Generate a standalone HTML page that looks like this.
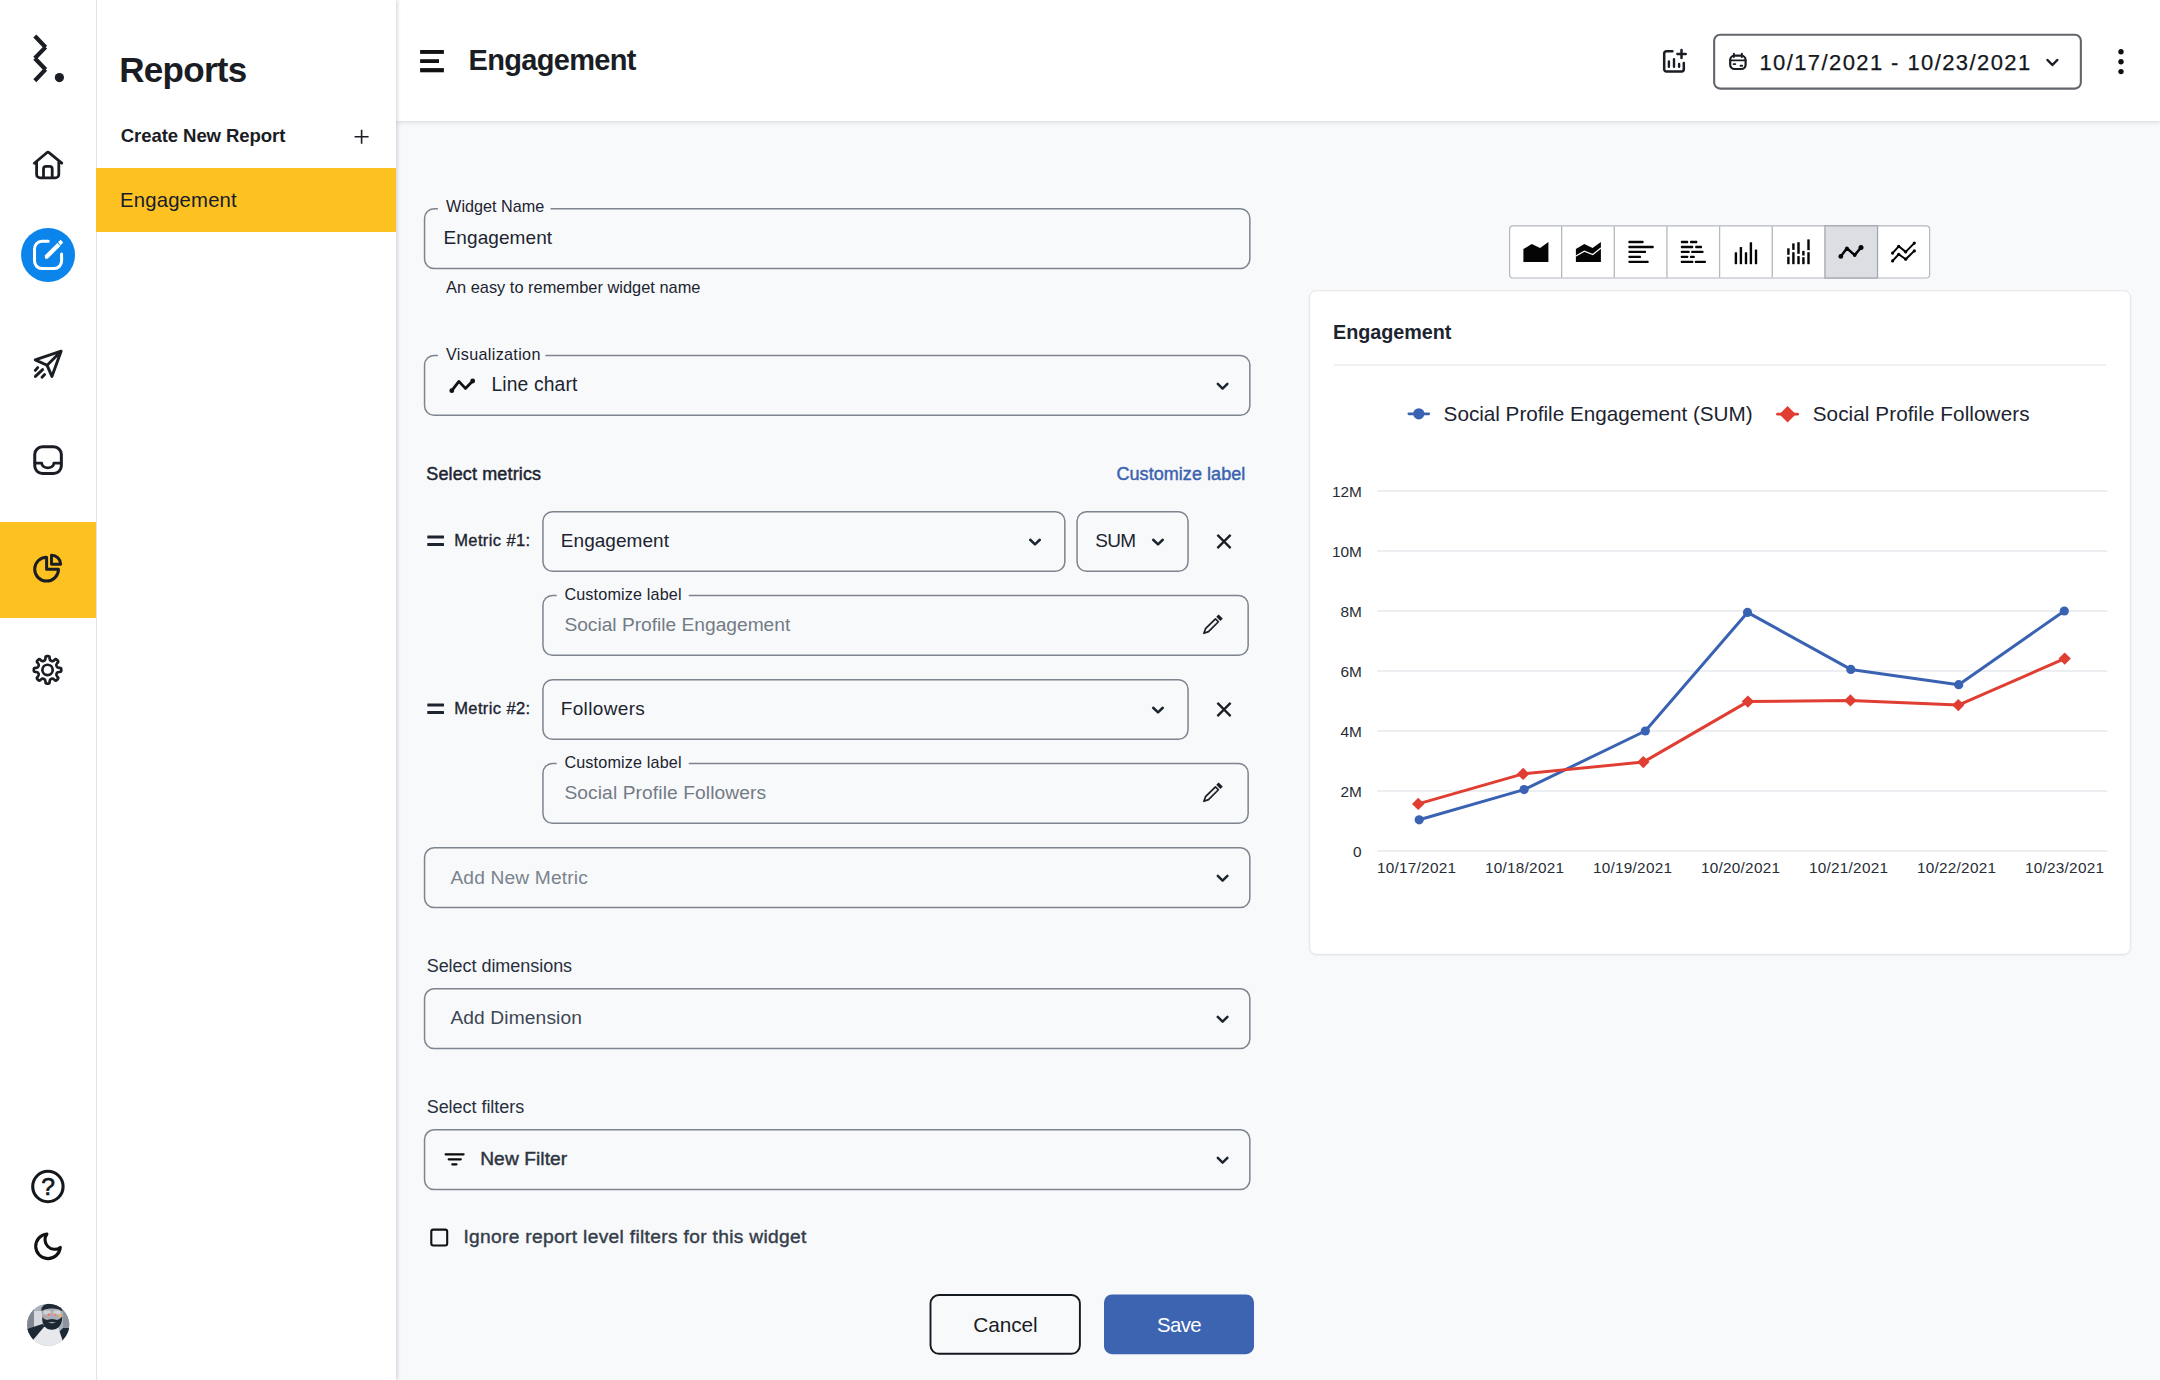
<!DOCTYPE html>
<html lang="en"><head><meta charset="utf-8"><title>Reports - Engagement</title>
<style>
html,body{margin:0;padding:0}
body{width:2160px;height:1380px;position:relative;overflow:hidden;background:#f8f9fb;font-family:"Liberation Sans",sans-serif;color:#1c2430}
#main{position:absolute;left:396px;top:121px;width:1764px;height:1259px;background:#f8f9fb}
#header{position:absolute;left:396px;top:0;width:1764px;height:121px;background:#fff;box-shadow:0 1px 5px rgba(30,40,60,.17)}
#sidebar{position:absolute;left:97px;top:0;width:299px;height:1380px;background:#fff;box-shadow:1px 0 4px rgba(30,40,60,.22)}
#sel{position:absolute;left:96px;top:168px;width:300px;height:64px;background:#fdc122}
#rail{position:absolute;left:0;top:0;width:96px;height:1380px;background:#fff;border-right:1px solid #e3e4e8}
#railsel{position:absolute;left:0;top:522px;width:96px;height:96px;background:#fdc122}
#ov{position:absolute;left:0;top:0}
.t{position:absolute;line-height:1;white-space:pre;margin:0}

</style></head>
<body>
<div id="main"></div>
<div id="header"></div>
<div id="sidebar"></div>
<div id="rail"><div id="railsel"></div></div>
<div id="sel"></div>
<svg id="ov" width="2160" height="1380" viewBox="0 0 2160 1380">
<path d="M34.8,36 L45.6,47.2 M45.6,47.1 L34.8,58.3 M34.8,58.3 L45.6,69.5 M45.6,69.4 L34.8,80.7" fill="none" stroke="#1a1d23" stroke-width="4.2"/>
<circle cx="59.4" cy="77.6" r="4.6" fill="#1a1d23"/>
<path d="M34.3,163.2 L46.8,152.7 Q47.9,151.8 49,152.7 L61.8,163.2 M36.6,161.6 V174.4 a3.5,3.5 0 0 0 3.5,3.5 H55.3 a3.5,3.5 0 0 0 3.5,-3.5 V161.6 M43.5,177.9 V169 a2.6,2.6 0 0 1 2.6,-2.6 h3.5 a2.6,2.6 0 0 1 2.6,2.6 V177.9" fill="none" stroke="#1a1d23" stroke-width="2.8" stroke-linecap="round" stroke-linejoin="round"/>
<circle cx="48.05" cy="254.95" r="27" fill="#0b85eb"/>
<path d="M48.2,241.3 H41.9 a7.4,7.4 0 0 0 -7.4,7.4 V261.1 a7.4,7.4 0 0 0 7.4,7.4 H54.2 a7.4,7.4 0 0 0 7.4,-7.4 V254" fill="none" stroke="#fff" stroke-width="3" stroke-linecap="round"/>
<path d="M44.7,255.6 L57.4,242.9 L60.4,246 L47.6,258.8 L45.2,258.8 Z" fill="#fff"/>
<path d="M58.1,242 L60.7,239.7 L63.2,242.5 L60.5,245.5 Z" fill="#fff"/>
<path d="M61.1,351.2 L35.2,359.9 L47.1,365.3 L51.9,376.4 Z M47.1,365.3 L61.1,351.2" fill="none" stroke="#1a1d23" stroke-width="2.9" stroke-linecap="round" stroke-linejoin="round"/>
<path d="M35.3,370.4 L37.7,367.6 M35.4,376.4 L42.6,369.6 M42,377.2 L44.6,374.5" fill="none" stroke="#1a1d23" stroke-width="2.9" stroke-linecap="round" stroke-linejoin="round"/>
<rect x="34.75" y="446.85" width="26.6" height="26.6" rx="7.6" fill="none" stroke="#1a1d23" stroke-width="3" stroke-linecap="round" stroke-linejoin="round"/>
<path d="M35,463.1 H41.7 c0.4,6.4 11.8,6.4 12.2,0 H61" fill="none" stroke="#1a1d23" stroke-width="2.8" stroke-linecap="round" stroke-linejoin="round"/>
<path d="M46.6,557.3 A11.9,11.9 0 1 0 58.5,569.2 H46.6 Z" fill="none" stroke="#1a1d23" stroke-width="3" stroke-linecap="round" stroke-linejoin="round"/>
<path d="M51.5,555.2 V564.3 H60.7 A9.2,9.2 0 0 0 51.5,555.2 Z" fill="none" stroke="#1a1d23" stroke-width="2.9" stroke-linecap="round" stroke-linejoin="round"/>
<path d="M45.46,657.75 Q45.48,656.15 47.08,656.15 L48.02,656.15 Q49.62,656.15 49.64,657.75 L49.65,658.63 Q49.67,660.23 51.15,660.84 L51.41,660.95 Q52.89,661.56 54.03,660.45 L54.66,659.84 Q55.81,658.72 56.94,659.85 L57.60,660.51 Q58.73,661.64 57.61,662.79 L57.00,663.42 Q55.89,664.56 56.50,666.04 L56.61,666.30 Q57.22,667.78 58.82,667.80 L59.70,667.81 Q61.30,667.83 61.30,669.43 L61.30,670.37 Q61.30,671.97 59.70,671.99 L58.82,672.00 Q57.22,672.02 56.61,673.50 L56.50,673.76 Q55.89,675.24 57.00,676.38 L57.61,677.01 Q58.73,678.16 57.60,679.29 L56.94,679.95 Q55.81,681.08 54.66,679.96 L54.03,679.35 Q52.89,678.24 51.41,678.85 L51.15,678.96 Q49.67,679.57 49.65,681.17 L49.64,682.05 Q49.62,683.65 48.02,683.65 L47.08,683.65 Q45.48,683.65 45.46,682.05 L45.45,681.17 Q45.43,679.57 43.95,678.96 L43.69,678.85 Q42.21,678.24 41.07,679.35 L40.44,679.96 Q39.29,681.08 38.16,679.95 L37.50,679.29 Q36.37,678.16 37.49,677.01 L38.10,676.38 Q39.21,675.24 38.60,673.76 L38.49,673.50 Q37.88,672.02 36.28,672.00 L35.40,671.99 Q33.80,671.97 33.80,670.37 L33.80,669.43 Q33.80,667.83 35.40,667.81 L36.28,667.80 Q37.88,667.78 38.49,666.30 L38.60,666.04 Q39.21,664.56 38.10,663.42 L37.49,662.79 Q36.37,661.64 37.50,660.51 L38.16,659.85 Q39.29,658.72 40.44,659.84 L41.07,660.45 Q42.21,661.56 43.69,660.95 L43.95,660.84 Q45.43,660.23 45.45,658.63 Z" fill="none" stroke="#1a1d23" stroke-width="2.7" stroke-linecap="round" stroke-linejoin="round"/>
<circle cx="47.55" cy="669.9" r="5.15" fill="none" stroke="#1a1d23" stroke-width="2.7" stroke-linecap="round" stroke-linejoin="round"/>
<circle cx="47.9" cy="1186.5" r="15.2" fill="none" stroke="#14171c" stroke-width="3.1"/>
<path d="M21,12.79 A9,9 0 1 1 11.21,3 A7,7 0 0 0 21,12.79 Z" transform="translate(31.55,1229.9) scale(1.37)" fill="none" stroke="#111" stroke-width="2.25" stroke-linejoin="round"/>
<defs><clipPath id="av"><circle cx="48.2" cy="1324.8" r="21.1"/></clipPath></defs>
<g clip-path="url(#av)"><rect x="27" y="1303" width="43" height="44" fill="#aab0b8"/><rect x="27" y="1303" width="7" height="30" fill="#7f8791"/><rect x="34" y="1311" width="8" height="16" fill="#d6dade"/><rect x="63" y="1306" width="7" height="26" fill="#8d949d"/><path d="M27,1329 L42.5,1324 L47,1329 L33,1340 L27,1344 Z" fill="#1d2835"/><path d="M70,1328 L63,1328 L58,1333 L62,1341 L70,1344 Z" fill="#1d2835"/><path d="M33,1340 L44,1327 L58,1327 L62.5,1340 L62,1347 L33,1347 Z" fill="#e6e8ec"/><path d="M41.5,1309 Q41,1303.5 52,1303.6 Q62.8,1304 62.6,1312 L62,1321 Q60,1329 52,1329.2 Q44,1329 42.4,1321 Z" fill="#a9afb7"/><path d="M41.3,1311 Q41,1303.4 52,1303.6 Q63,1304 62.6,1311.5 Q58,1308 52,1308.6 Q46,1308 41.3,1311 Z" fill="#1f2a36"/><path d="M42.2,1317 Q45,1321 49,1319.6 Q52,1318.4 55,1319.6 Q59,1321 62.2,1316.5 Q62.4,1326 56,1329 Q52,1330.6 47.6,1329 Q42,1326 42.2,1317 Z" fill="#1c2632"/><path d="M48,1322.6 Q52,1320.8 56,1322.6 Q52,1324.2 48,1322.6 Z" fill="#8f969f"/><rect x="43.5" y="1310.6" width="7.4" height="4" rx="1.6" fill="#cfd4d9"/><rect x="53.4" y="1310.6" width="7.4" height="4" rx="1.6" fill="#cfd4d9"/><circle cx="49" cy="1314.6" r="1.5" fill="#ef8272"/><circle cx="55.2" cy="1314.8" r="1.3" fill="#ef8272"/><circle cx="60" cy="1315.6" r="1.6" fill="#f3b35a"/><circle cx="43.4" cy="1317" r="1.1" fill="#ef8272"/></g>
<path d="M354.6,136.8 H368.6 M361.6,129.8 V143.8" stroke="#1a1d23" stroke-width="1.6" fill="none"/>
<rect x="420.1" y="50" width="23.8" height="3.9" fill="#111"/><rect x="420.1" y="59.2" width="18.9" height="3.8" fill="#111"/><rect x="420.1" y="68.1" width="23.8" height="4.2" fill="#111"/>
<path d="M1672.4,51.3 H1666.4 a2.2,2.2 0 0 0 -2.2,2.2 V69.2 a2.2,2.2 0 0 0 2.2,2.2 H1681.6 a2.2,2.2 0 0 0 2.2,-2.2 V63" fill="none" stroke="#1a1d23" stroke-width="2.5" stroke-linecap="round"/>
<path d="M1668.9,61.4 V66.8 M1674,59.1 V66.8 M1679.1,64 V66.8" stroke="#1a1d23" stroke-width="2.4" fill="none" stroke-linecap="round"/>
<path d="M1677.4,53.9 H1685.7 M1681.5,49.9 V57.9" stroke="#1a1d23" stroke-width="2.5" fill="none" stroke-linecap="round"/>
<rect x="1714.15" y="34.7" width="366.7" height="53.9" rx="6" fill="#fff" stroke="#62666c" stroke-width="2.1"/>
<rect x="1730.2" y="55.7" width="15.4" height="13.3" rx="4.2" fill="none" stroke="#1a1d23" stroke-width="2.2"/>
<path d="M1733.9,53.6 V57 M1741.9,53.6 V57 M1730.4,60.4 H1745.4 M1733.6,64.1 H1735.3 M1740.5,65.7 H1742.2" stroke="#1a1d23" stroke-width="1.9" fill="none" stroke-linecap="round"/>
<path d="M2047.5,60.0 L2052.4,65.0 L2057.3,60.0" fill="none" stroke="#1a1d23" stroke-width="2.5" stroke-linecap="round" stroke-linejoin="round"/>
<circle cx="2121" cy="51.8" r="2.7" fill="#111"/>
<circle cx="2121" cy="61.8" r="2.7" fill="#111"/>
<circle cx="2121" cy="71.6" r="2.7" fill="#111"/>
<rect x="424.55" y="208.65" width="825.3" height="59.79999999999998" rx="9.5" fill="none" stroke="#7c848e" stroke-width="1.5"/>
<rect x="437.9" y="206.9" width="112.60000000000002" height="3.5" fill="#f8f9fb"/>
<rect x="424.55" y="355.45" width="825.3" height="59.80000000000001" rx="9.5" fill="none" stroke="#7c848e" stroke-width="1.5"/>
<rect x="437.9" y="353.7" width="107.60000000000002" height="3.5" fill="#f8f9fb"/>
<path d="M451.8,390.6 L458.9,381.4 L465.4,388.4 L472.7,381" fill="none" stroke="#111" stroke-width="2.8" stroke-linejoin="round" stroke-linecap="round"/>
<circle cx="451.8" cy="390.7" r="2.4" fill="#111"/><circle cx="472.7" cy="381" r="2.4" fill="#111"/>
<path d="M1217.8,383.84999999999997 L1222.6,388.55 L1227.3999999999999,383.84999999999997" fill="none" stroke="#1c2430" stroke-width="2.5" stroke-linecap="round" stroke-linejoin="round"/>
<rect x="427.3" y="535.6" width="16.7" height="3" rx="0.5" fill="#1c2430"/>
<rect x="427.3" y="543.1" width="16.7" height="3" rx="0.5" fill="#1c2430"/>
<rect x="542.95" y="511.65" width="521.8999999999999" height="59.60000000000002" rx="9.5" fill="none" stroke="#7c848e" stroke-width="1.5"/>
<rect x="1077.05" y="511.65" width="111.0" height="59.60000000000002" rx="9.5" fill="none" stroke="#7c848e" stroke-width="1.5"/>
<path d="M1030.2,539.75 L1035,544.45 L1039.8,539.75" fill="none" stroke="#1c2430" stroke-width="2.5" stroke-linecap="round" stroke-linejoin="round"/>
<path d="M1153.2,539.75 L1158,544.45 L1162.8,539.75" fill="none" stroke="#1c2430" stroke-width="2.5" stroke-linecap="round" stroke-linejoin="round"/>
<path d="M1217.4,534.9 L1230.6,548.1 M1230.6,534.9 L1217.4,548.1" stroke="#1a1d23" stroke-width="2.3" fill="none"/>
<rect x="542.95" y="595.55" width="705.2" height="59.80000000000007" rx="9.5" fill="none" stroke="#7c848e" stroke-width="1.5"/>
<rect x="556.7" y="593.8" width="132.0" height="3.5" fill="#f8f9fb"/>
<g transform="translate(1212.25,624.95) rotate(45)"><path d="M-2.1,-6.6 H2.1 V7.4 L0,11.8 L-2.1,7.4 Z" fill="none" stroke="#1a1d23" stroke-width="1.7" stroke-linejoin="round"/><rect x="-2.95" y="-11.9" width="5.9" height="3.3" fill="#1a1d23"/></g>
<rect x="427.3" y="703.6" width="16.7" height="3" rx="0.5" fill="#1c2430"/>
<rect x="427.3" y="711.1" width="16.7" height="3" rx="0.5" fill="#1c2430"/>
<rect x="542.95" y="679.65" width="645.0999999999999" height="59.60000000000002" rx="9.5" fill="none" stroke="#7c848e" stroke-width="1.5"/>
<path d="M1153.2,707.75 L1158,712.45 L1162.8,707.75" fill="none" stroke="#1c2430" stroke-width="2.5" stroke-linecap="round" stroke-linejoin="round"/>
<path d="M1217.4,702.9 L1230.6,716.1 M1230.6,702.9 L1217.4,716.1" stroke="#1a1d23" stroke-width="2.3" fill="none"/>
<rect x="542.95" y="763.55" width="705.2" height="59.80000000000007" rx="9.5" fill="none" stroke="#7c848e" stroke-width="1.5"/>
<rect x="556.7" y="761.8" width="132.0" height="3.5" fill="#f8f9fb"/>
<g transform="translate(1212.25,792.95) rotate(45)"><path d="M-2.1,-6.6 H2.1 V7.4 L0,11.8 L-2.1,7.4 Z" fill="none" stroke="#1a1d23" stroke-width="1.7" stroke-linejoin="round"/><rect x="-2.95" y="-11.9" width="5.9" height="3.3" fill="#1a1d23"/></g>
<rect x="424.55" y="847.85" width="825.3" height="59.60000000000002" rx="9.5" fill="none" stroke="#7c848e" stroke-width="1.5"/>
<path d="M1217.8,875.9499999999999 L1222.6,880.65 L1227.3999999999999,875.9499999999999" fill="none" stroke="#1c2430" stroke-width="2.5" stroke-linecap="round" stroke-linejoin="round"/>
<rect x="424.55" y="988.85" width="825.3" height="59.60000000000002" rx="9.5" fill="none" stroke="#7c848e" stroke-width="1.5"/>
<path d="M1217.8,1016.9499999999999 L1222.6,1021.65 L1227.3999999999999,1016.9499999999999" fill="none" stroke="#1c2430" stroke-width="2.5" stroke-linecap="round" stroke-linejoin="round"/>
<rect x="424.55" y="1129.85" width="825.3" height="59.600000000000136" rx="9.5" fill="none" stroke="#7c848e" stroke-width="1.5"/>
<path d="M1217.8,1157.95 L1222.6,1162.6499999999999 L1227.3999999999999,1157.95" fill="none" stroke="#1c2430" stroke-width="2.5" stroke-linecap="round" stroke-linejoin="round"/>
<path d="M445.6,1154.3 H463.6 M448.7,1159.3 H460.8 M452.3,1164.3 H456.5" stroke="#0a0a0a" stroke-width="2.2" fill="none" stroke-linecap="round"/>
<rect x="431.3" y="1229.6" width="15.9" height="15.9" rx="2" fill="none" stroke="#111" stroke-width="2.1"/>
<rect x="930.5" y="1295" width="149.4" height="58.8" rx="8.5" fill="none" stroke="#14181f" stroke-width="1.9"/>
<rect x="1104" y="1294.5" width="150" height="59.7" rx="8" fill="#3d64b1"/>
<rect x="1509.6" y="225.79999999999998" width="420.00000000000006" height="52.20000000000003" rx="3.5" fill="#fff" stroke="#b4b8bf" stroke-width="1.2"/>
<rect x="1824.90" y="225.79999999999998" width="52.65" height="52.20000000000003" fill="#dcdee3" stroke="#a4a8af" stroke-width="1.3"/>
<path d="M1561.65,226.2 V277.6" stroke="#b4b8bf" stroke-width="1.3"/>
<path d="M1614.30,226.2 V277.6" stroke="#b4b8bf" stroke-width="1.3"/>
<path d="M1666.95,226.2 V277.6" stroke="#b4b8bf" stroke-width="1.3"/>
<path d="M1719.60,226.2 V277.6" stroke="#b4b8bf" stroke-width="1.3"/>
<path d="M1772.25,226.2 V277.6" stroke="#b4b8bf" stroke-width="1.3"/>
<path d="M1523.4,261.9 V249 L1531.8,243.9 L1540.1,248 L1548.4,242.1 V261.9 Z" fill="#050505"/>
<path d="M1575.9,261.9 V249 L1584.3,243.9 L1592.6,248 L1600.9,242.1 V261.9 Z" fill="#050505"/>
<path d="M1575.9,256.1 L1584.3,251.2 L1592.8,254.5 L1600.9,248" fill="none" stroke="#fff" stroke-width="1.2"/>
<rect x="1628.4" y="240.8" width="15.2" height="2.4" rx="0.8" fill="#050505"/>
<rect x="1628.4" y="245.8" width="25.3" height="2.4" rx="0.8" fill="#050505"/>
<rect x="1628.4" y="250.70000000000002" width="17.7" height="2.4" rx="0.8" fill="#050505"/>
<rect x="1628.4" y="255.7" width="12.6" height="2.4" rx="0.8" fill="#050505"/>
<rect x="1628.4" y="260.7" width="20.3" height="2.4" rx="0.8" fill="#050505"/>
<rect x="1680.9" y="240.8" width="7.3" height="2.4" rx="0.6" fill="#050505"/>
<rect x="1690" y="240.8" width="7.3" height="2.4" rx="0.6" fill="#050505"/>
<rect x="1680.9" y="245.8" width="12.3" height="2.4" rx="0.6" fill="#050505"/>
<rect x="1695.2" y="245.8" width="6.8" height="2.4" rx="0.6" fill="#050505"/>
<rect x="1680.9" y="250.70000000000002" width="8.7" height="2.4" rx="0.6" fill="#050505"/>
<rect x="1691.3" y="250.70000000000002" width="12.1" height="2.4" rx="0.6" fill="#050505"/>
<rect x="1680.9" y="255.7" width="7.3" height="2.4" rx="0.6" fill="#050505"/>
<rect x="1690" y="255.7" width="4.7" height="2.4" rx="0.6" fill="#050505"/>
<rect x="1680.9" y="260.7" width="12.3" height="2.4" rx="0.6" fill="#050505"/>
<rect x="1694.9" y="260.7" width="11.0" height="2.4" rx="0.6" fill="#050505"/>
<rect x="1734.7" y="252.2" width="2.4" height="12.0" rx="0.6" fill="#050505"/>
<rect x="1739.7" y="247" width="2.4" height="17.2" rx="0.6" fill="#050505"/>
<rect x="1744.8" y="252.2" width="2.4" height="12.0" rx="0.6" fill="#050505"/>
<rect x="1749.7" y="242.2" width="2.4" height="22.0" rx="0.6" fill="#050505"/>
<rect x="1754.8" y="249.4" width="2.4" height="14.8" rx="0.6" fill="#050505"/>
<rect x="1787.2" y="248.3" width="2.4" height="6.5" fill="#050505"/>
<rect x="1787.2" y="256.7" width="2.4" height="7.5" fill="#050505"/>
<rect x="1792.2" y="243.4" width="2.4" height="6.5" fill="#050505"/>
<rect x="1792.2" y="252.2" width="2.4" height="12.0" fill="#050505"/>
<rect x="1797.3" y="242.2" width="2.4" height="11.6" fill="#050505"/>
<rect x="1797.3" y="256.1" width="2.4" height="8.1" fill="#050505"/>
<rect x="1802.2" y="250.9" width="2.4" height="4.6" fill="#050505"/>
<rect x="1802.2" y="257.2" width="2.4" height="7.0" fill="#050505"/>
<rect x="1807.3" y="239.4" width="2.4" height="10.8" fill="#050505"/>
<rect x="1807.3" y="252.2" width="2.4" height="12.0" fill="#050505"/>
<path d="M1840.8,256.4 L1846.9,248.3 L1854.7,255.1 L1861,247.5" fill="none" stroke="#050505" stroke-width="2.5" stroke-linejoin="round" stroke-linecap="round"/>
<circle cx="1840.8" cy="256.4" r="2.4" fill="#050505"/>
<circle cx="1846.9" cy="248.3" r="1.9" fill="#050505"/>
<circle cx="1854.7" cy="255.1" r="1.9" fill="#050505"/>
<circle cx="1861" cy="247.5" r="2.5" fill="#050505"/>
<path d="M1892.6,253.1 L1898.7,246.3 L1905.7,251.9 L1914.3,243.1" fill="none" stroke="#050505" stroke-width="2" stroke-linejoin="round" stroke-linecap="round"/>
<circle cx="1892.6" cy="253.1" r="1.6" fill="#050505"/>
<circle cx="1898.7" cy="246.3" r="1.6" fill="#050505"/>
<circle cx="1905.7" cy="251.9" r="1.6" fill="#050505"/>
<circle cx="1914.3" cy="243.1" r="1.6" fill="#050505"/>
<path d="M1892.6,260.9 L1898.7,254.3 L1905.7,259.2 L1914.3,250.9" fill="none" stroke="#050505" stroke-width="2" stroke-linejoin="round" stroke-linecap="round"/>
<circle cx="1892.6" cy="260.9" r="1.6" fill="#050505"/>
<circle cx="1898.7" cy="254.3" r="1.6" fill="#050505"/>
<circle cx="1905.7" cy="259.2" r="1.6" fill="#050505"/>
<circle cx="1914.3" cy="250.9" r="1.6" fill="#050505"/>
<rect x="1309.7" y="291.6" width="820.6" height="663.2" rx="6.5" fill="none" stroke="#1e2a3c" stroke-opacity="0.05" stroke-width="2.4"/>
<rect x="1309.7" y="290.7" width="820.6" height="663.6" rx="6.5" fill="#fff" stroke="#e4e6ea" stroke-width="1"/>
<path d="M1334,365 H2106.5" stroke="#e9ebee" stroke-width="1.3"/>
<path d="M1377,851 H2107.2" stroke="#e6e8ec" stroke-width="1.4"/>
<path d="M1377,791 H2107.2" stroke="#e6e8ec" stroke-width="1.4"/>
<path d="M1377,731 H2107.2" stroke="#e6e8ec" stroke-width="1.4"/>
<path d="M1377,671 H2107.2" stroke="#e6e8ec" stroke-width="1.4"/>
<path d="M1377,611 H2107.2" stroke="#e6e8ec" stroke-width="1.4"/>
<path d="M1377,551 H2107.2" stroke="#e6e8ec" stroke-width="1.4"/>
<path d="M1377,491 H2107.2" stroke="#e6e8ec" stroke-width="1.4"/>
<polyline points="1419.2,819.8 1524.1,789.6 1645.3,731 1747.5,612.4 1850.8,669.4 1958.7,684.7 2064.3,611" fill="none" stroke="#3a62b2" stroke-width="3" stroke-linejoin="round"/>
<polyline points="1418.2,803.9 1523.1,773.9 1643.3,762.1 1747.9,701.6 1850.4,700.4 1958.3,705.1 2064.7,658.6" fill="none" stroke="#e03d33" stroke-width="3" stroke-linejoin="round"/>
<circle cx="1419.2" cy="819.8" r="4.6" fill="#3a62b2"/>
<circle cx="1524.1" cy="789.6" r="4.6" fill="#3a62b2"/>
<circle cx="1645.3" cy="731" r="4.6" fill="#3a62b2"/>
<circle cx="1747.5" cy="612.4" r="4.6" fill="#3a62b2"/>
<circle cx="1850.8" cy="669.4" r="4.6" fill="#3a62b2"/>
<circle cx="1958.7" cy="684.7" r="4.6" fill="#3a62b2"/>
<circle cx="2064.3" cy="611" r="4.6" fill="#3a62b2"/>
<path d="M1412.0,803.9 L1418.2,797.6999999999999 L1424.4,803.9 L1418.2,810.1 Z" fill="#e03d33"/>
<path d="M1516.8999999999999,773.9 L1523.1,767.6999999999999 L1529.3,773.9 L1523.1,780.1 Z" fill="#e03d33"/>
<path d="M1637.1,762.1 L1643.3,755.9 L1649.5,762.1 L1643.3,768.3000000000001 Z" fill="#e03d33"/>
<path d="M1741.7,701.6 L1747.9,695.4 L1754.1000000000001,701.6 L1747.9,707.8000000000001 Z" fill="#e03d33"/>
<path d="M1844.2,700.4 L1850.4,694.1999999999999 L1856.6000000000001,700.4 L1850.4,706.6 Z" fill="#e03d33"/>
<path d="M1952.1,705.1 L1958.3,698.9 L1964.5,705.1 L1958.3,711.3000000000001 Z" fill="#e03d33"/>
<path d="M2058.5,658.6 L2064.7,652.4 L2070.8999999999996,658.6 L2064.7,664.8000000000001 Z" fill="#e03d33"/>
<path d="M1408.9,413.8 H1428.7" stroke="#3a62b2" stroke-width="2.8" stroke-linecap="round"/><circle cx="1418.8" cy="413.8" r="5.6" fill="#3a62b2"/>
<path d="M1777.5,414.2 H1797.6" stroke="#e03d33" stroke-width="2.8" stroke-linecap="round"/><path d="M1779.4,414.2 L1787.6,406 L1795.8,414.2 L1787.6,422.4 Z" fill="#e03d33"/>
</svg>
<span class="t" style="top:52.00px;font-size:35px;left:119.30px;letter-spacing:-0.71px;font-weight:700;color:#1a1d23;">Reports</span>
<span class="t" style="top:127.00px;font-size:18.6px;left:120.80px;letter-spacing:-0.11px;font-weight:700;color:#1a1d23;">Create New Report</span>
<span class="t" style="top:190.00px;font-size:20.3px;left:120.00px;letter-spacing:0.19px;color:#161c2c;">Engagement</span>
<span class="t" style="top:46.00px;font-size:29px;left:468.50px;letter-spacing:-0.67px;font-weight:700;color:#1a1d23;">Engagement</span>
<span class="t" style="top:52.00px;font-size:22px;left:1759.40px;letter-spacing:1.41px;color:#14171c;-webkit-text-stroke:0.25px currentColor;">10/17/2021 - 10/23/2021</span>
<span class="t" style="top:198.00px;font-size:16.2px;left:446.10px;letter-spacing:0.02px;">Widget Name</span>
<span class="t" style="top:228.00px;font-size:19px;left:443.60px;letter-spacing:0.08px;">Engagement</span>
<span class="t" style="top:279.00px;font-size:16.4px;left:446.00px;letter-spacing:0.01px;">An easy to remember widget name</span>
<span class="t" style="top:346.00px;font-size:16.2px;left:446.00px;letter-spacing:0.32px;">Visualization</span>
<span class="t" style="top:375.00px;font-size:19.3px;left:491.50px;letter-spacing:0.13px;">Line chart</span>
<span class="t" style="top:465.00px;font-size:18px;left:426.30px;letter-spacing:0.13px;-webkit-text-stroke:0.45px currentColor;">Select metrics</span>
<span class="t" style="top:465.00px;font-size:18px;left:1116.50px;letter-spacing:0.05px;color:#3b63b0;-webkit-text-stroke:0.45px currentColor;">Customize label</span>
<span class="t" style="top:532.00px;font-size:16.5px;left:454.20px;letter-spacing:0.39px;-webkit-text-stroke:0.35px currentColor;">Metric #1:</span>
<span class="t" style="top:531.00px;font-size:19px;left:560.80px;letter-spacing:0.05px;">Engagement</span>
<span class="t" style="top:531.00px;font-size:19px;left:1095.30px;letter-spacing:-0.70px;">SUM</span>
<span class="t" style="top:586.00px;font-size:16.2px;left:564.40px;letter-spacing:0.14px;">Customize label</span>
<span class="t" style="top:615.00px;font-size:19.2px;left:564.40px;letter-spacing:-0.01px;color:#737b85;">Social Profile Engagement</span>
<span class="t" style="top:700.00px;font-size:16.5px;left:454.20px;letter-spacing:0.39px;-webkit-text-stroke:0.35px currentColor;">Metric #2:</span>
<span class="t" style="top:699.00px;font-size:19px;left:560.70px;letter-spacing:0.36px;">Followers</span>
<span class="t" style="top:754.00px;font-size:16.2px;left:564.40px;letter-spacing:0.14px;">Customize label</span>
<span class="t" style="top:783.00px;font-size:19.2px;left:564.40px;letter-spacing:0.10px;color:#737b85;">Social Profile Followers</span>
<span class="t" style="top:868.00px;font-size:19.2px;left:450.40px;letter-spacing:0.15px;color:#7a838d;">Add New Metric</span>
<span class="t" style="top:957.00px;font-size:18px;left:426.70px;letter-spacing:-0.04px;color:#27303d;">Select dimensions</span>
<span class="t" style="top:1008.00px;font-size:19.2px;left:450.40px;letter-spacing:0.12px;color:#3d4652;">Add Dimension</span>
<span class="t" style="top:1098.00px;font-size:18px;left:426.70px;letter-spacing:-0.04px;color:#27303d;">Select filters</span>
<span class="t" style="top:1149.00px;font-size:19.2px;left:480.20px;letter-spacing:0.08px;color:#2c3440;-webkit-text-stroke:0.45px currentColor;">New Filter</span>
<span class="t" style="top:1227.00px;font-size:19.2px;left:463.40px;letter-spacing:0.32px;color:#343d49;-webkit-text-stroke:0.4px currentColor;">Ignore report level filters for this widget</span>
<span class="t" style="top:1315.00px;font-size:20.8px;left:973.30px;letter-spacing:-0.10px;color:#1a1d23;">Cancel</span>
<span class="t" style="top:1315.00px;font-size:20.4px;left:1157.00px;letter-spacing:-0.61px;color:#ffffff;">Save</span>
<span class="t" style="top:323.00px;font-size:19.8px;left:1333.00px;letter-spacing:-0.04px;font-weight:700;">Engagement</span>
<span class="t" style="top:404.00px;font-size:20.7px;left:1443.60px;letter-spacing:-0.01px;">Social Profile Engagement (SUM)</span>
<span class="t" style="top:404.00px;font-size:20.7px;left:1812.70px;letter-spacing:0.08px;">Social Profile Followers</span>
<span class="t" style="top:844.00px;font-size:15.4px;right:798.34px;color:#262c36;">0</span>
<span class="t" style="top:784.00px;font-size:15.4px;right:798.08px;color:#262c36;">2M</span>
<span class="t" style="top:724.00px;font-size:15.4px;right:798.08px;color:#262c36;">4M</span>
<span class="t" style="top:664.00px;font-size:15.4px;right:798.08px;color:#262c36;">6M</span>
<span class="t" style="top:604.00px;font-size:15.4px;right:798.08px;color:#262c36;">8M</span>
<span class="t" style="top:544.00px;font-size:15.4px;right:798.08px;color:#262c36;">10M</span>
<span class="t" style="top:484.00px;font-size:15.4px;right:798.08px;color:#262c36;">12M</span>
<span class="t" style="top:860.00px;font-size:15.3px;left:1266.50px;width:300px;text-align:center;text-indent:0.26px;letter-spacing:0.26px;color:#262c36;">10/17/2021</span>
<span class="t" style="top:860.00px;font-size:15.3px;left:1374.50px;width:300px;text-align:center;text-indent:0.26px;letter-spacing:0.26px;color:#262c36;">10/18/2021</span>
<span class="t" style="top:860.00px;font-size:15.3px;left:1482.50px;width:300px;text-align:center;text-indent:0.26px;letter-spacing:0.26px;color:#262c36;">10/19/2021</span>
<span class="t" style="top:860.00px;font-size:15.3px;left:1590.50px;width:300px;text-align:center;text-indent:0.26px;letter-spacing:0.26px;color:#262c36;">10/20/2021</span>
<span class="t" style="top:860.00px;font-size:15.3px;left:1698.50px;width:300px;text-align:center;text-indent:0.26px;letter-spacing:0.26px;color:#262c36;">10/21/2021</span>
<span class="t" style="top:860.00px;font-size:15.3px;left:1806.50px;width:300px;text-align:center;text-indent:0.26px;letter-spacing:0.26px;color:#262c36;">10/22/2021</span>
<span class="t" style="top:860.00px;font-size:15.3px;left:1914.50px;width:300px;text-align:center;text-indent:0.26px;letter-spacing:0.26px;color:#262c36;">10/23/2021</span>
<span class="t" style="top:1175.00px;font-size:24.6px;left:41.30px;color:#14171c;-webkit-text-stroke:0.7px currentColor;">?</span>
</body></html>
